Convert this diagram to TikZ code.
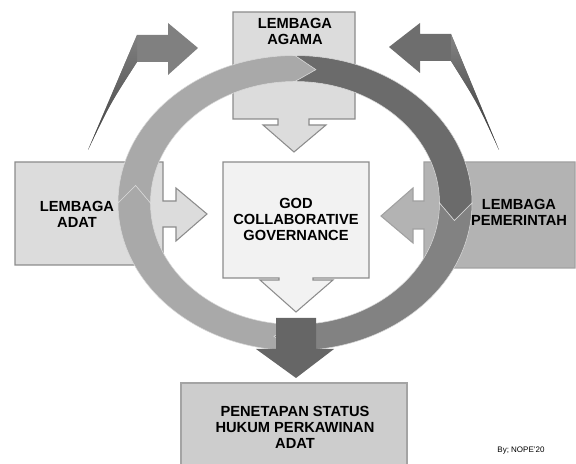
\documentclass[tikz,border=0pt]{standalone}
\usepackage{fontspec}
\setmainfont{Liberation Sans}
\usepackage{tikz}
\usetikzlibrary{calc}
\definecolor{cPanel}{HTML}{DCDCDC}
\definecolor{cCore}{HTML}{F2F2F2}
\definecolor{cGov}{HTML}{B3B3B3}
\definecolor{cOut}{HTML}{CDCDCD}
\definecolor{cEdge}{HTML}{8C8C8C}
\definecolor{cRingLt}{HTML}{A9A9A9}
\definecolor{cRingDk}{HTML}{6B6B6B}
\definecolor{cRingMd}{HTML}{828282}
\definecolor{cDrop}{HTML}{666666}
\definecolor{cBendL}{HTML}{808080}
\definecolor{cBendR}{HTML}{6E6E6E}

\begin{document}
\begin{tikzpicture}[x=0.75pt,y=0.75pt,
  panel/.style={draw=cEdge,line width=0.8pt},
  seg/.style={draw=white!70!gray,line width=0.4pt},
  lbl/.style={font=\bfseries\fontsize{11}{12}\selectfont,align=center,inner sep=0pt}]
  \useasboundingbox (0,0) rectangle (576,464);
  \coordinate (ring) at (295,261);
  % bent arrows above the ring
  \fill[cBendL] (88,314) -- (137,429) -- (168,429) -- (168,441) -- (198,416) -- (168,389) -- (168,402) -- (137,402) .. controls (110,360) .. (88,314) -- cycle;
  \shade[top color=cBendL,bottom color=black!75] (88,314) -- (137,429) -- (137,402) .. controls (110,360) .. (88,314) -- cycle;
  \fill[cBendR] (499,314) -- (451,430) -- (420,430) -- (420,441) -- (389,417) -- (420,391) -- (420,403) -- (451,403) .. controls (478,360) .. (499,314) -- cycle;
  \shade[top color=cBendR!85!white,bottom color=black!80] (499,314) -- (451,430) -- (451,403) .. controls (478,360) .. (499,314) -- cycle;
  % boxes with their arrows
  \draw[panel,fill=cPanel] (233,452) -- (355,452) -- (355,345) -- (309,345) -- (309,339) -- (326,339) -- (294,312) -- (263,339) -- (278,339) -- (278,345) -- (233,345) -- cycle;
  \draw[panel,fill=cPanel] (15,302) -- (163,302) -- (163,263) -- (176,263) -- (176,276) -- (207,250) -- (176,223) -- (176,237) -- (163,237) -- (163,199) -- (15,199) -- cycle;
  \draw[panel,fill=cCore] (223,302) -- (369,302) -- (369,186) -- (313,186) -- (313,184) -- (333,184) -- (296,152) -- (260,184) -- (279,184) -- (279,186) -- (223,186) -- cycle;
  \draw[panel,draw=cGov!90!black,fill=cGov] (424,302) -- (575,302) -- (575,196) -- (424,196) -- (424,235) -- (413,235) -- (413,221) -- (381,248) -- (413,276) -- (413,263) -- (424,263) -- cycle;
  \draw[panel,draw=cOut!80!black,fill=cOut] (181,-2) rectangle (407,81);
  % cycle ring
  \foreach \a/\b/\c in {270/180/cRingLt,180/90/cRingLt,90/0/cRingDk,0/-90/cRingMd}
    \filldraw[seg,fill=\c] ($(ring)+(\a:177 and 147.5)$) arc[start angle=\a,end angle=\b,x radius=177,y radius=147.5]
      -- ($(ring)+(\b-7.5:160.75 and 134.5)$) -- ($(ring)+(\b:144.5 and 121.5)$)
      arc[start angle=\b,end angle=\a,x radius=144.5,y radius=121.5]
      -- ($(ring)+(\a-7.5:160.75 and 134.5)$) -- cycle;
  \fill[cDrop] (276,146) -- (316,146) -- (316,115) -- (334,115) -- (296,86) -- (256,115) -- (276,115) -- cycle;
  % labels
  \node[lbl] (agama) at (295,433) {LEMBAGA\\AGAMA};
  \node[lbl] (adat) at (77,250) {LEMBAGA\\ADAT};
  \node[lbl] (core) at (296,245) {GOD\\COLLABORATIVE\\GOVERNANCE};
  \node[lbl] (pemerintah) at (519,252) {LEMBAGA\\PEMERINTAH};
  \node[lbl] (penetapan) at (295,37) {PENETAPAN STATUS\\HUKUM PERKAWINAN\\ADAT};
  \node[font=\fontsize{6}{7}\selectfont,inner sep=0pt] (sign) at (521,13) {By; NOPE'20};
\end{tikzpicture}
\end{document}
